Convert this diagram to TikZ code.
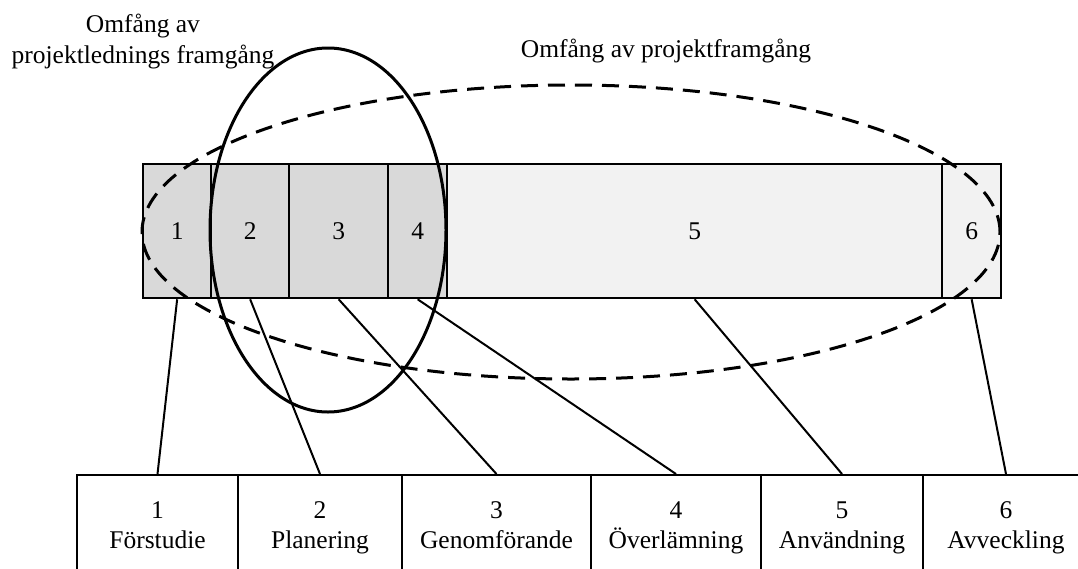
\documentclass[tikz,border=0pt]{standalone}
\usepackage{fontspec}
\setmainfont{Liberation Serif}
\begin{document}
\begin{tikzpicture}[x=1pt, y=-1pt,
  every node/.style={font=\fontsize{25.5}{31}\selectfont, inner sep=0pt},
  seg/.style={draw, line width=2.3pt, minimum height=134pt, anchor=north west},
  early/.style={seg, fill=phasedark},
  late/.style={seg, fill=phaselight},
  phasebox/.style={draw, line width=2.3pt, minimum height=120pt, anchor=north},
  link/.style={line width=2pt},
  lbl/.style={anchor=base}
]
\definecolor{phasedark}{HTML}{D9D9D9}
\definecolor{phaselight}{HTML}{F2F2F2}
\useasboundingbox (0,0) rectangle (1078,568);
\clip (0,0) rectangle (1078,568);

% scope labels (base anchor sits on the last line)
\node[lbl, align=center] (pmlabel) at (143,63) {Omfång av\\projektlednings framgång};
\node[lbl] (pslabel) at (666,57) {Omfång av projektframgång};

% life-cycle bar
\node[early, minimum width=68pt] (s1) at (142,163) {1};
\node[early, minimum width=78pt] (s2) at (210,163) {2};
\node[early, minimum width=99pt] (s3) at (288,163) {3};
\node[early, minimum width=59pt] (s4) at (387,163) {4};
\node[late, minimum width=495pt] (s5) at (446,163) {5};
\node[late, minimum width=59pt] (s6) at (941,163) {6};

% phase boxes
\node[phasebox, minimum width=161pt] (p1) at (157.5,474) {};
\node[phasebox, minimum width=164pt] (p2) at (320,474) {};
\node[phasebox, minimum width=189pt] (p3) at (496.5,474) {};
\node[phasebox, minimum width=170pt] (p4) at (676,474) {};
\node[phasebox, minimum width=162pt] (p5) at (842,474) {};
\node[phasebox, minimum width=166pt] (p6) at (1006,474) {};

\foreach \i/\name in {1/Förstudie, 2/Planering, 3/Genomförande, 4/Överlämning, 5/Användning, 6/Avveckling}{
  \node[lbl] (n\i) at ([yshift=-44pt]p\i.north) {\i};
  \node[lbl] (t\i) at ([yshift=-74pt]p\i.north) {\name};
}

% connectors
\foreach \i in {1,...,6}{
  \draw[link] (s\i.south) -- (p\i.north);
}

% success scopes
\draw[line width=3pt] (328,230) ellipse [x radius=118pt, y radius=182pt];
\draw[line width=3pt, dash pattern=on 17pt off 10pt] (571,232) ellipse [x radius=429pt, y radius=147pt];
\end{tikzpicture}
\end{document}
